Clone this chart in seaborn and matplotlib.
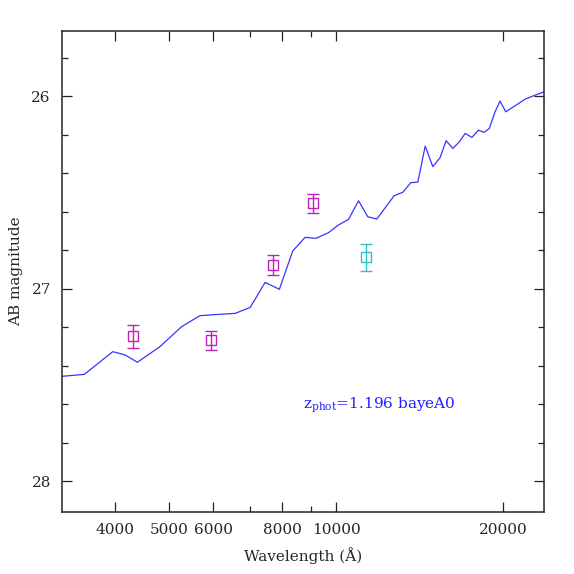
import matplotlib
matplotlib.use("Agg")
import matplotlib.pyplot as plt
import matplotlib.ticker as mticker
import seaborn as sns
import pandas as pd

# model spectrum (wavelength in A, AB mag)
spec_wave = [3207, 3516, 3957, 4165, 4383, 4812, 5266, 5681, 6008, 6577, 7000,
             7447, 7900, 8351, 8790, 9201, 9683, 10093, 10526, 10975, 11404,
             11838, 12720, 13186, 13632, 14036, 14472, 14937, 15394, 15781,
             16233, 16683, 17083, 17564, 18054, 18476, 18885, 19338, 19744,
             20219, 21916, 22844, 23700]
spec_mag = [27.456, 27.446, 27.328, 27.345, 27.383, 27.302, 27.198, 27.141,
            27.136, 27.129, 27.098, 26.968, 27.004, 26.805, 26.734, 26.739,
            26.710, 26.670, 26.641, 26.544, 26.627, 26.639, 26.518, 26.500,
            26.450, 26.447, 26.260, 26.367, 26.320, 26.232, 26.272, 26.237,
            26.194, 26.215, 26.177, 26.189, 26.168, 26.082, 26.026, 26.082,
            26.016, 25.995, 25.978]

# photometry
phot_wave = [4311, 5944, 7705, 9078]
phot_mag = [27.247, 27.269, 26.878, 26.558]
phot_err = [0.06, 0.05, 0.05, 0.05]

nir_wave = [11325]
nir_mag = [26.838]
nir_err = [0.07]

sns.set_style("ticks")
plt.rcParams['font.family'] = ['DejaVu Serif']
plt.rcParams['mathtext.fontset'] = 'dejavuserif'

fig = plt.figure(figsize=(5.74, 5.74), dpi=100)
ax = fig.add_axes([0.108, 0.108, 0.840, 0.838])

spec = pd.DataFrame({"wave": spec_wave, "mag": spec_mag})
sns.lineplot(data=spec, x="wave", y="mag", sort=False, color="#3535ff",
             linewidth=0.9, ax=ax)

magenta = "#c020c0"
cyan = "#30c0c0"
ax.errorbar(phot_wave, phot_mag, yerr=phot_err, fmt="s", mfc="none",
            mec=magenta, ecolor=magenta, ms=7, mew=1.0, capsize=4.6,
            elinewidth=1.0, capthick=1.0)
ax.errorbar(nir_wave, nir_mag, yerr=nir_err, fmt="s", mfc="none",
            mec=cyan, ecolor=cyan, ms=7, mew=1.0, capsize=4.6,
            elinewidth=1.0, capthick=1.0)

ax.set_xscale("log")
ax.set_xlim(3205, 23710)
ax.set_ylim(28.161, 25.662)

ax.xaxis.set_major_locator(mticker.FixedLocator([4000, 5000, 6000, 8000, 10000, 20000]))
ax.xaxis.set_minor_locator(mticker.FixedLocator([7000, 9000]))
ax.xaxis.set_major_formatter(mticker.FuncFormatter(lambda v, p: f"{int(round(v))}"))
ax.xaxis.set_minor_formatter(mticker.NullFormatter())
ax.yaxis.set_major_locator(mticker.MultipleLocator(1))
ax.yaxis.set_minor_locator(mticker.MultipleLocator(0.2))

ax.tick_params(which="both", direction="in", top=True, right=True,
               labelsize=11, color="#222222", width=0.9)
ax.tick_params(which="major", length=7)
ax.tick_params(which="minor", length=4)
ax.tick_params(axis="x", pad=8)
ax.tick_params(axis="y", pad=8)
for s in ax.spines.values():
    s.set_linewidth(1.1)

ax.set_xlabel("Wavelength (Å)", fontsize=11, labelpad=7)
ax.set_ylabel("AB magnitude", fontsize=11, labelpad=6)

ax.text(0.5, 0.214, r"$\mathregular{z_{phot}}$=1.196 bayeA0", transform=ax.transAxes,
        color="#2020ff", fontsize=11, ha="left", va="baseline")

fig.savefig("out.png", dpi=100)
